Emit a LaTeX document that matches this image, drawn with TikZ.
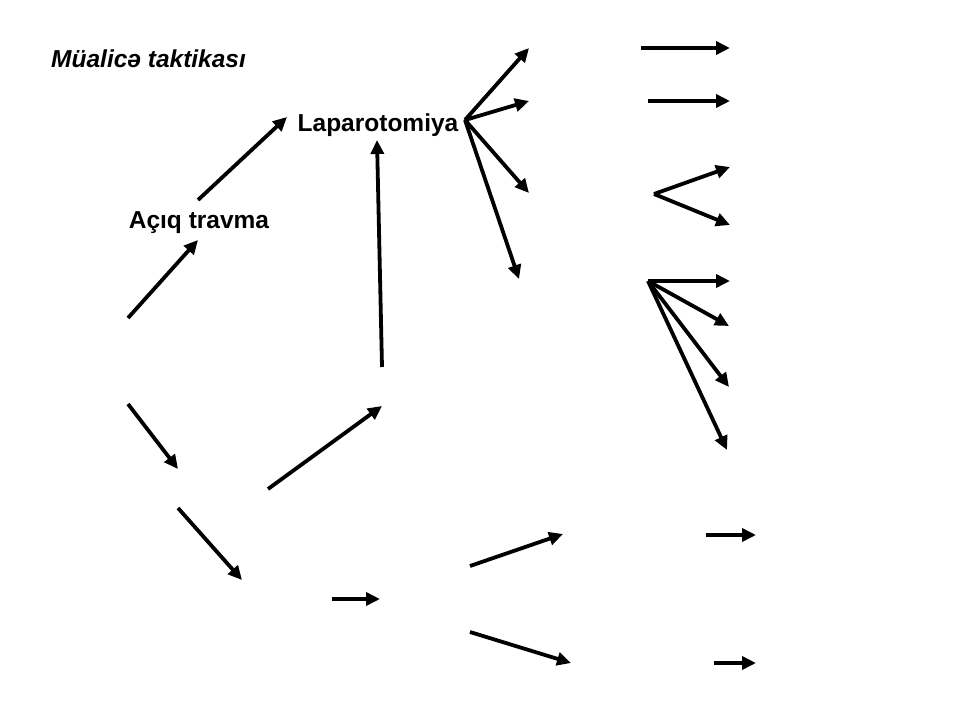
\documentclass[tikz,border=0pt]{standalone}
\usepackage{fontspec}
\setmainfont{Liberation Sans}
\usetikzlibrary{arrows.meta}
\begin{document}
\begin{tikzpicture}[x=1pt,y=-1pt,
  arr/.style={line width=3.8pt,-{Triangle[length=14pt,width=13pt]}},
  lbl/.style={font=\bfseries\fontsize{24.5}{28}\selectfont,inner sep=0pt}]
\useasboundingbox[fill=white] (0,0) rectangle (957,725);
\node[lbl,font=\bfseries\itshape\fontsize{24.5}{28}\selectfont,anchor=west] (title) at (51,59) {Müalicə taktikası};
\node[lbl] (lap) at (378,125) {Laparotomiya};
\node[lbl] (acq) at (199,223) {Açıq travma};
% coordinates
\coordinate (a1s) at (128,318); \coordinate (a1e) at (198,240);
\coordinate (a2s) at (198,200); \coordinate (a2e) at (287,117);
\coordinate (a3s) at (382,367); \coordinate (a3e) at (377,140);
\coordinate (a4s) at (128,404); \coordinate (a4e) at (178,469);
\coordinate (a5s) at (178,508); \coordinate (a5e) at (242,580);
\coordinate (a6s) at (268,489); \coordinate (a6e) at (382,406);
\coordinate (a7s) at (332,599); \coordinate (a7e) at (380,599);
\coordinate (a8s) at (470,566); \coordinate (a8e) at (563,534);
\coordinate (a9s) at (470,632); \coordinate (a9e) at (571,663);
\coordinate (f0) at (465,120);
\coordinate (f1) at (529,48); \coordinate (f2) at (529,101);
\coordinate (f3) at (529,193); \coordinate (f4) at (519,279);
\coordinate (r1s) at (641,48); \coordinate (r1e) at (730,48);
\coordinate (r2s) at (648,101); \coordinate (r2e) at (730,101);
\coordinate (v0) at (654,194); \coordinate (v1) at (730,167); \coordinate (v2) at (730,225);
\coordinate (g0) at (648,281);
\coordinate (g1) at (730,281); \coordinate (g2) at (729,326);
\coordinate (g3) at (729,387); \coordinate (g4) at (727,450);
\coordinate (b1s) at (706,535); \coordinate (b1e) at (756,535);
\coordinate (b2s) at (714,663); \coordinate (b2e) at (756,663);
% arrows
\foreach \s/\e in {a1s/a1e,a2s/a2e,a3s/a3e,a4s/a4e,a5s/a5e,a6s/a6e,a7s/a7e,a8s/a8e,a9s/a9e,
  f0/f1,f0/f2,f0/f3,f0/f4,r1s/r1e,r2s/r2e,v0/v1,v0/v2,g0/g1,g0/g2,g0/g3,g0/g4,b1s/b1e,b2s/b2e}
  \draw[arr] (\s) -- (\e);
\end{tikzpicture}
\end{document}
